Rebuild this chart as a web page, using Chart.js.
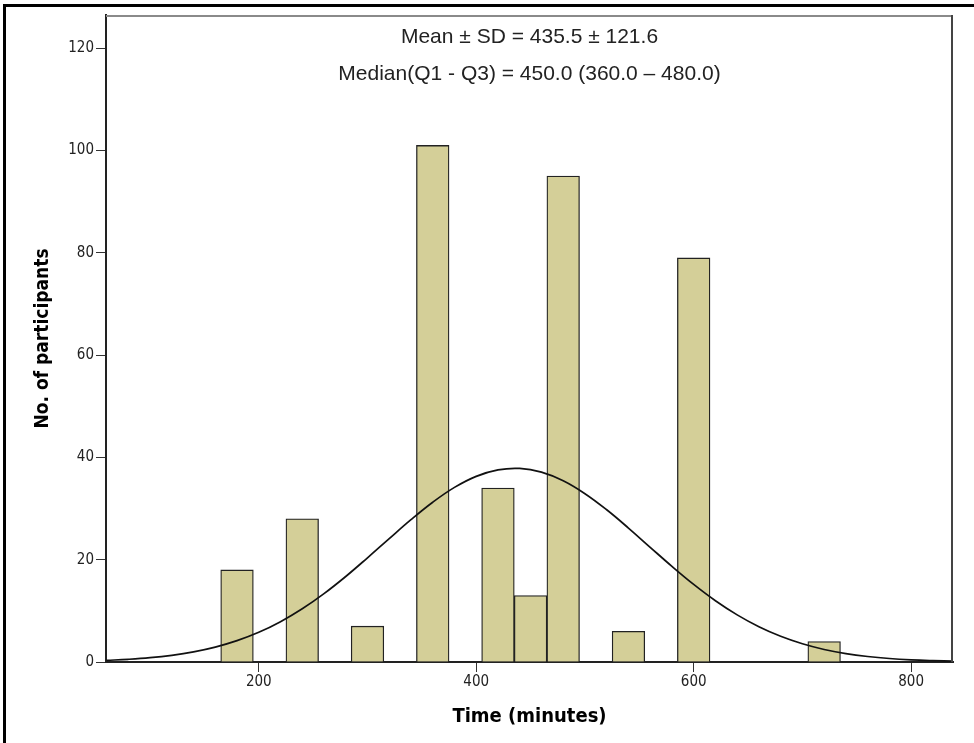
<!DOCTYPE html>
<html><head><meta charset="utf-8">
<script src="https://cdn.jsdelivr.net/npm/chart.js@4.4.1/dist/chart.umd.min.js"></script>
<style>html,body{margin:0;padding:0;background:#fff;}#wrap{width:974px;height:743px;position:relative;}</style>
</head><body><div id="wrap"><canvas id="c" width="974" height="743"></canvas></div>
<script>
// ---- data ----
const binCenters = [180, 240, 300, 360, 420, 450, 480, 540, 600, 720];
const counts     = [18, 28, 7, 101, 34, 13, 95, 6, 79, 4];
const curveX = [60,80,100,120,140,160,180,200,220,240,260,280,300,320,340,360,380,400,420,440,460,480,500,520,540,560,580,600,620,640,660,680,700,720,740,760,780,800,820,840];
const curveY = [0.32,0.53,0.84,1.31,1.98,2.91,4.17,5.80,7.88,10.40,13.37,16.72,20.37,24.13,27.83,31.24,34.14,36.30,37.57,37.85,37.12,35.43,32.91,29.76,26.19,22.43,18.70,15.17,11.98,9.21,6.89,5.02,3.56,2.45,1.65,1.08,0.68,0.42,0.26,0.15];
const xTickValues = [200, 400, 600, 800];
const yTickValues = [0, 20, 40, 60, 80, 100, 120];
const xRange = [59.5, 838.5];
const yRange = [0, 126.5];
const statLines = ['Mean \u00B1 SD = 435.5 \u00B1 121.6', 'Median(Q1 - Q3) = 450.0 (360.0 \u2013 480.0)'];
const xTitle = 'Time (minutes)';
const yTitle = 'No. of participants';

const tickFont = {family: "'DejaVu Sans Condensed', 'DejaVu Sans', sans-serif", size: 15};
const yTitleFont = {family: "'DejaVu Sans Condensed', 'DejaVu Sans', sans-serif", size: 19, weight: 'bold'};
const xTitleFont = {family: "'DejaVu Sans Condensed', 'DejaVu Sans', sans-serif", size: 20, weight: 'bold'};

const deco = {
  id: 'deco',
  beforeDraw(chart) {
    const ctx = chart.ctx;
    ctx.save();
    ctx.fillStyle = '#fff';
    ctx.fillRect(0, 0, chart.width, chart.height);
    ctx.fillStyle = '#000';
    ctx.fillRect(3, 4, chart.width - 3, 3);
    ctx.fillRect(3, 4, 3, chart.height - 4);
    ctx.restore();
  },
  afterDraw(chart) {
    const ctx = chart.ctx, a = chart.chartArea;
    ctx.save();
    ctx.strokeStyle = '#8a8a8a';
    ctx.lineWidth = 2;
    ctx.beginPath();
    ctx.moveTo(a.left, a.top + 1);
    ctx.lineTo(a.right, a.top + 1);
    ctx.stroke();
    ctx.strokeStyle = '#444';
    ctx.beginPath();
    ctx.moveTo(a.right - 1, a.top);
    ctx.lineTo(a.right - 1, a.bottom);
    ctx.stroke();
    ctx.fillStyle = '#222';
    ctx.font = "21px 'Liberation Sans', 'Arimo', sans-serif";
    ctx.textAlign = 'center';
    ctx.textBaseline = 'middle';
    const cx = (a.left + a.right) / 2;
    ctx.fillText(statLines[0], cx, 37);
    ctx.fillText(statLines[1], cx, 74);
    ctx.restore();
  }
};

new Chart(document.getElementById('c'), {
  data: {
    datasets: [
      {
        type: 'line',
        order: 0,
        data: curveX.map((x, i) => ({x: x, y: curveY[i]})),
        borderColor: '#111',
        borderWidth: 1.7,
        pointRadius: 0,
        tension: 0.4,
        fill: false
      },
      {
        type: 'bar',
        order: 1,
        data: binCenters.map((x, i) => ({x: x, y: counts[i]})),
        backgroundColor: '#d4cf98',
        borderColor: '#222',
        borderWidth: 1.3,
        barPercentage: 1,
        categoryPercentage: 1
      }
    ]
  },
  options: {
    responsive: false,
    animation: false,
    devicePixelRatio: 1,
    layout: {padding: {top: 15, right: 21, left: 0, bottom: 0}},
    plugins: {legend: {display: false}, tooltip: {enabled: false}},
    scales: {
      x: {
        type: 'linear',
        offset: false,
        min: xRange[0], max: xRange[1],
        afterBuildTicks(s) { s.ticks = xTickValues.map(v => ({value: v})); },
        afterFit(s) { s.height = 81; },
        grid: {offset: false, drawOnChartArea: false, drawTicks: true, tickLength: 10, color: '#333', lineWidth: 1},
        border: {display: true, color: '#222', width: 2},
        ticks: {font: tickFont, color: '#222', padding: 1, maxRotation: 0},
        title: {display: true, text: xTitle, font: xTitleFont, color: '#000', padding: {top: 0, bottom: 14}}
      },
      y: {
        type: 'linear',
        min: yRange[0], max: yRange[1],
        afterBuildTicks(s) { s.ticks = yTickValues.map(v => ({value: v})); },
        afterFit(s) { s.width = 106; },
        grid: {drawOnChartArea: false, drawTicks: true, tickLength: 10, color: '#333', lineWidth: 1},
        border: {display: true, color: '#222', width: 2},
        ticks: {font: tickFont, color: '#222', padding: 2},
        title: {display: true, text: yTitle, font: yTitleFont, color: '#000', padding: {top: 32, bottom: 0}}
      }
    }
  },
  plugins: [deco]
});
</script>
</body></html>
